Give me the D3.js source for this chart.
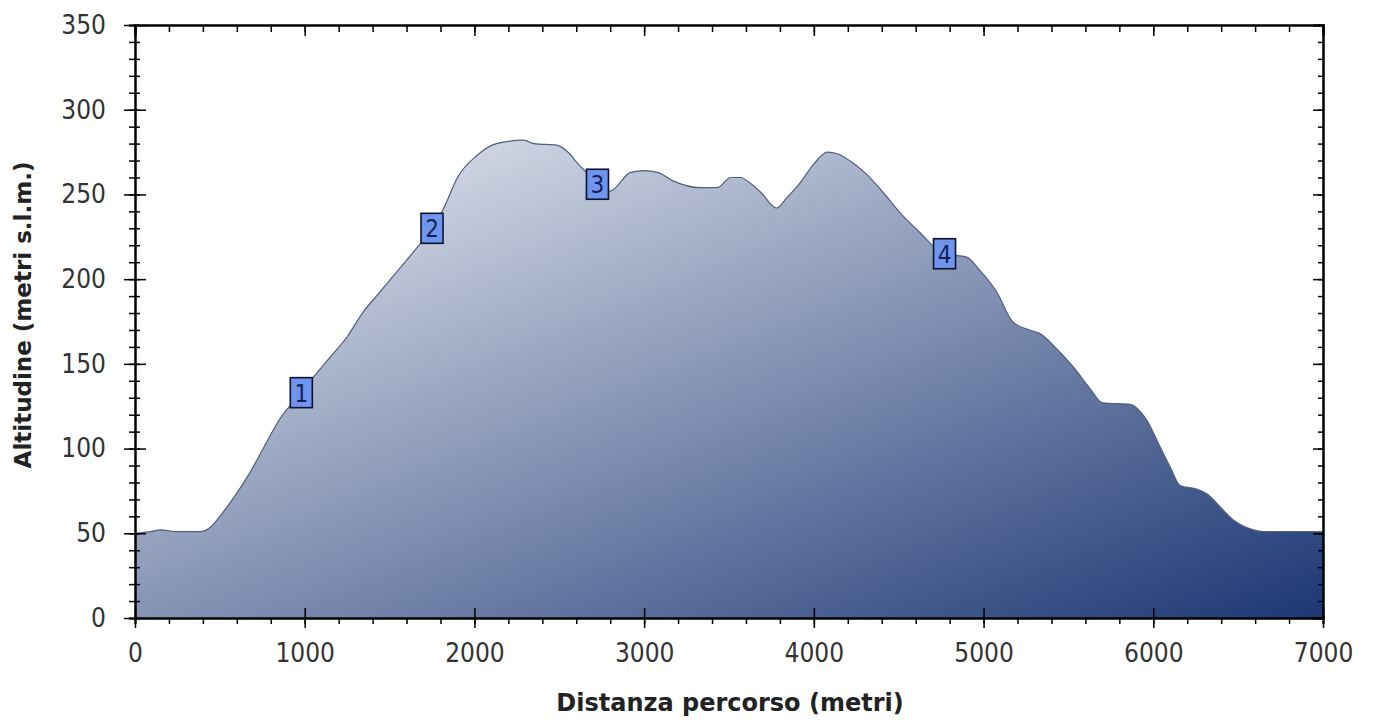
<!DOCTYPE html>
<html>
  <head>
  <title>Profilo altimetrico</title>
  <style>
    body, html {
      margin: 0;
      padding: 0;
      background: #fff;
    }
    svg { display: block; }
  </style>
  </head>
  <body>
    <svg id="svg" width="1373" height="721"></svg>
  <script src="https://cdn.jsdelivr.net/npm/d3@7"></script>
  <script>
    const distances = [0, 90, 150, 250, 310, 380, 450, 500, 560, 660, 750, 850, 980, 1050, 1150, 1250, 1340, 1440, 1540, 1640, 1750, 1815, 1900, 2015, 2130, 2290, 2350, 2490, 2550, 2620, 2660, 2730, 2800, 2920, 3000, 3080, 3170, 3330, 3430, 3510, 3570, 3620, 3690, 3780, 3840, 3920, 4000, 4080, 4140, 4210, 4310, 4410, 4510, 4610, 4770, 4840, 4900, 4980, 5080, 5170, 5270, 5330, 5430, 5530, 5630, 5700, 5870, 5930, 5960, 6040, 6100, 6160, 6260, 6320, 6390, 6470, 6590, 6650, 7000]
    const altitudes = [50, 51, 52, 51, 51, 51, 54, 60, 68, 83, 99, 117, 133, 142, 154, 166, 180, 192, 204, 216, 230, 241, 260, 273, 280, 282, 280, 279, 275, 267, 263, 255, 252, 263, 264, 263, 258, 254, 254, 260, 260, 257, 251, 242, 248, 257, 268, 275, 274, 270, 262, 251, 239, 229, 215, 214, 213, 205, 192, 175, 170, 168, 159, 148, 135, 127, 126, 121, 117, 101, 89, 78, 76, 73, 66, 58, 52, 51, 51]

    // punti notevoli
    const markerLabels = ["1", "2", "3", "4"]
    const markerDist = [980, 1750, 2725, 4770]
    const markerAlt = [133, 230, 256, 215]

    const xTicks = [0, 1000, 2000, 3000, 4000, 5000, 6000, 7000]
    const yTicks = [0, 50, 100, 150, 200, 250, 300, 350]

    const margin = { top: 25, right: 50, bottom: 103, left: 135 }
    const width = 1373 - margin.left - margin.right
    const height = 721 - margin.top - margin.bottom

    const data = distances.map((d, i) => ({ d: d, a: altitudes[i] }))

    const xScale = d3.scaleLinear().domain([0, 7000]).range([margin.left, margin.left + width])
    const yScale = d3.scaleLinear().domain([0, 350]).range([margin.top + height, margin.top])

    const svg = d3.select('#svg')

    const grad = svg.append("defs").append("linearGradient")
      .attr("id", "fillGrad")
      .attr("x1", 0).attr("y1", 0).attr("x2", 1).attr("y2", 1)
    grad.append("stop").attr("offset", "0%").attr("stop-color", "#eef0f5")
    grad.append("stop").attr("offset", "100%").attr("stop-color", "#1c3774")

    const area = d3.area()
      .x(d => xScale(d.d))
      .y0(yScale(0))
      .y1(d => yScale(d.a))
      .curve(d3.curveMonotoneX)

    svg.append("path")
      .datum(data)
      .attr("d", area)
      .attr("fill", "url(#fillGrad)")

    const line = d3.line()
      .x(d => xScale(d.d))
      .y(d => yScale(d.a))
      .curve(d3.curveMonotoneX)

    svg.append("path")
      .datum(data)
      .attr("d", line)
      .attr("fill", "none")
      .attr("stroke", "#4f5f80")
      .attr("stroke-width", 1.2)

    // assi
    const minorX = d3.range(0, 7001, 200)
    const minorY = d3.range(0, 351, 10)
    const tickFont = "DejaVu Sans Condensed, sans-serif"
    const axisStyle = g => {
      g.select(".domain").attr("stroke", "#000").attr("stroke-width", 2)
      g.selectAll(".tick line").attr("stroke", "#000").attr("stroke-width", 1.5)
    }

    // bottom minor + major
    svg.append("g")
      .attr("transform", `translate(0, ${yScale(0)})`)
      .call(d3.axisBottom(xScale).tickValues(minorX).tickSize(6).tickFormat(""))
      .call(axisStyle)
    svg.append("g")
      .attr("transform", `translate(0, ${yScale(0)})`)
      .call(d3.axisBottom(xScale).tickValues(xTicks).tickSizeInner(10).tickSizeOuter(0).tickPadding(16).tickFormat(d3.format("d")))
      .call(axisStyle)
      .call(g => g.selectAll(".tick line").attr("y1", -10))
      .call(g => g.selectAll(".tick text")
        .style("font-family", tickFont)
        .style("font-size", "26px")
        .style("fill", "#333"))

    // top
    svg.append("g")
      .attr("transform", `translate(0, ${yScale(350)})`)
      .call(d3.axisTop(xScale).tickValues(minorX).tickSize(-7).tickFormat(""))
      .call(axisStyle)
    svg.append("g")
      .attr("transform", `translate(0, ${yScale(350)})`)
      .call(d3.axisTop(xScale).tickValues(xTicks).tickSize(-11).tickFormat(""))
      .call(axisStyle)

    // left minor + major
    svg.append("g")
      .attr("transform", `translate(${xScale(0)}, 0)`)
      .call(d3.axisLeft(yScale).tickValues(minorY).tickSize(6).tickFormat(""))
      .call(axisStyle)
      .call(g => g.selectAll(".tick line").attr("x2", 5).attr("x1", -6))
    svg.append("g")
      .attr("transform", `translate(${xScale(0)}, 0)`)
      .call(d3.axisLeft(yScale).tickValues(yTicks).tickSizeInner(11).tickSizeOuter(0).tickPadding(18).tickFormat(d3.format("d")))
      .call(axisStyle)
      .call(g => g.selectAll(".tick line").attr("x1", 11))
      .call(g => g.selectAll(".tick text")
        .style("font-family", tickFont)
        .style("font-size", "26px")
        .style("fill", "#333"))

    // right
    svg.append("g")
      .attr("transform", `translate(${xScale(7000)}, 0)`)
      .call(d3.axisRight(yScale).tickValues(minorY).tickSize(-5).tickFormat(""))
      .call(axisStyle)
    svg.append("g")
      .attr("transform", `translate(${xScale(7000)}, 0)`)
      .call(d3.axisRight(yScale).tickValues(yTicks).tickSize(-10).tickFormat(""))
      .call(axisStyle)

    // marcatori
    const markers = svg.selectAll(".marker")
      .data(markerLabels)
      .enter().append("g")
      .attr("class", "marker")
      .attr("transform", (d, i) => `translate(${xScale(markerDist[i])}, ${yScale(markerAlt[i])})`)
    markers.append("rect")
      .attr("x", -11).attr("y", -15)
      .attr("width", 22).attr("height", 30)
      .attr("fill", "#6f95ee")
      .attr("stroke", "#0a1230")
      .attr("stroke-width", 1.6)
    markers.append("text")
      .attr("y", 9)
      .attr("text-anchor", "middle")
      .style("font-family", tickFont)
      .style("font-size", "24px")
      .style("fill", "#141e5a")
      .text(d => d)

    // titoli assi
    svg.append("text")
      .attr("x", 730).attr("y", 711)
      .attr("text-anchor", "middle")
      .style("font-family", "DejaVu Sans, sans-serif")
      .style("font-weight", "bold")
      .style("font-size", "24px")
      .style("fill", "#222")
      .text("Distanza percorso (metri)")

    svg.append("text")
      .attr("transform", "translate(31, 315) rotate(-90)")
      .attr("text-anchor", "middle")
      .style("font-family", "DejaVu Sans, sans-serif")
      .style("font-weight", "bold")
      .style("font-size", "23px")
      .style("fill", "#222")
      .text("Altitudine (metri s.l.m.)")
  </script>
  </body>
</html>
